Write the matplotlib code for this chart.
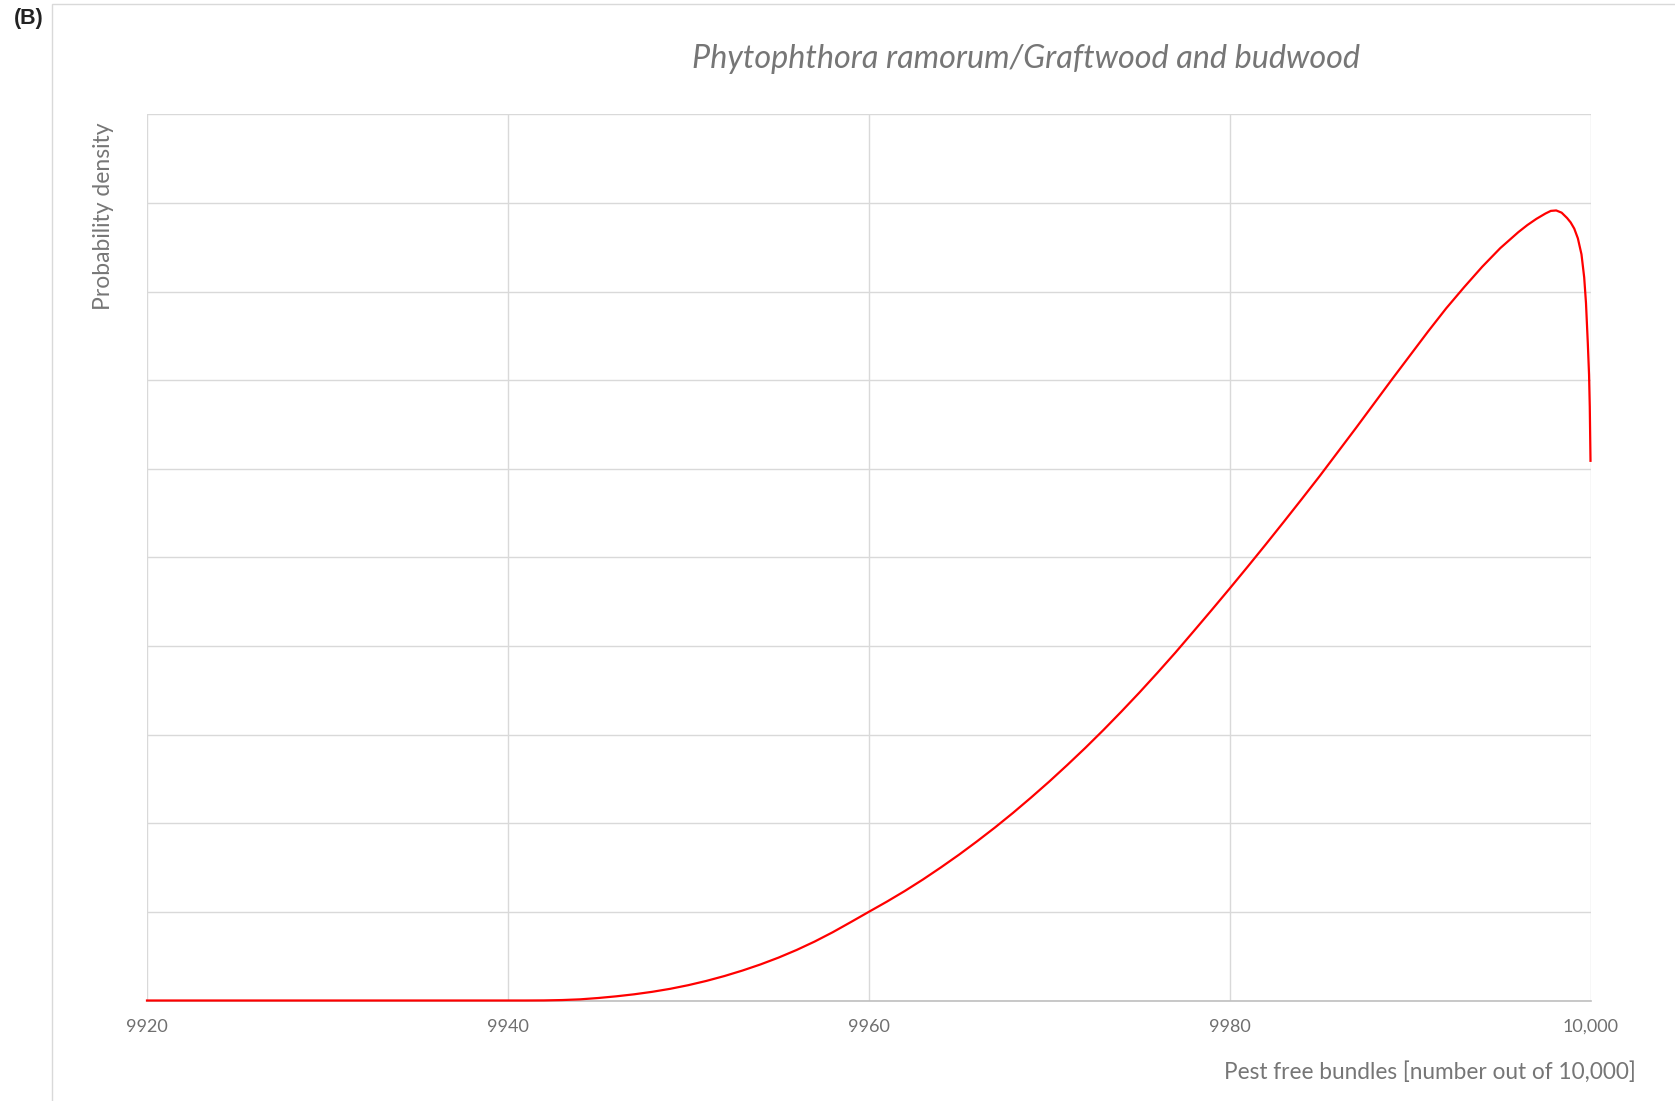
import matplotlib
matplotlib.use("Agg")
import matplotlib.pyplot as plt
from matplotlib.patches import Rectangle

# ---- data ----
pest_free = [9920, 9930, 9940, 9941, 9942, 9943, 9944, 9945, 9946, 9947, 9948, 9949,
             9950, 9951, 9952, 9953, 9954, 9955, 9956, 9957, 9958, 9959, 9960,
             9961, 9962, 9963, 9964, 9965, 9966, 9967, 9968, 9969, 9970, 9971,
             9972, 9973, 9974, 9975, 9976, 9977, 9978, 9979, 9980, 9981, 9982,
             9983, 9984, 9985, 9986, 9987, 9988, 9989, 9990, 9991, 9992, 9993,
             9994, 9995, 9996, 9996.5, 9997, 9997.5, 9997.8, 9998.1, 9998.4, 9998.7,
             9998.9, 9999.1, 9999.3, 9999.5, 9999.65, 9999.75, 9999.85, 9999.92,
             9999.96, 10000]
density = [0, 0, 0, 0, 0.001, 0.005, 0.013, 0.028, 0.047, 0.070, 0.098, 0.132,
           0.173, 0.221, 0.276, 0.338, 0.407, 0.484, 0.570, 0.665, 0.770, 0.884, 1.000,
           1.115, 1.236, 1.365, 1.502, 1.645, 1.796, 1.953, 2.118, 2.291, 2.470, 2.657,
           2.850, 3.051, 3.260, 3.475, 3.698, 3.927, 4.165, 4.405, 4.648, 4.895, 5.146,
           5.401, 5.659, 5.920, 6.190, 6.460, 6.735, 7.010, 7.280, 7.550, 7.810, 8.050,
           8.280, 8.490, 8.670, 8.750, 8.820, 8.880, 8.910, 8.915, 8.890, 8.830,
           8.780, 8.710, 8.600, 8.420, 8.160, 7.870, 7.420, 7.060,
           6.700, 6.090]
x_ticks = [9920, 9940, 9960, 9980, 10000]
x_tick_labels = ["9920", "9940", "9960", "9980", "10,000"]
y_grid = list(range(0, 11))

title = "Phytophthora ramorum/Graftwood and budwood"
xlabel = "Pest free bundles [number out of 10,000]"
ylabel = "Probability density"
panel = "(B)"

# ---- figure ----
W, H = 1675, 1101
fig = plt.figure(figsize=(W / 100, H / 100), dpi=100)
fig.patch.set_facecolor("white")

txt_font = ["Lato", "Open Sans", "DejaVu Sans"]
gray = "#767676"

# chart area border
fig.patches.append(Rectangle((51.5 / W, -0.01), 1.2, 1 - 3.5 / H + 0.01,
                             transform=fig.transFigure, fill=False,
                             edgecolor="#d9d9d9", lw=1.0))

left, right = 147 / W, 1590.5 / W
bottom, top = (H - 1000.5) / H, (H - 114.3) / H
ax = fig.add_axes([left, bottom, right - left, top - bottom])

ax.plot(pest_free, density, color="#ff0000", lw=1.6, clip_on=False, zorder=3,
        solid_joinstyle="round")

ax.set_xlim(9920, 10000)
ax.set_ylim(0, 10)
ax.set_xticks(x_ticks)
ax.set_xticklabels(x_tick_labels)
ax.set_yticks(y_grid)
ax.tick_params(axis="y", left=False, labelleft=False)
ax.tick_params(axis="x", length=0, pad=13, labelsize=13, labelcolor="#6f6f6f")
for lab in ax.get_xticklabels():
    lab.set_fontfamily(txt_font)

ax.grid(True, color="#d9d9d9", lw=1.0)
ax.set_axisbelow(True)
for s in ["left", "top", "right"]:
    ax.spines[s].set_visible(False)
ax.spines["bottom"].set_color("#bfbfbf")
ax.spines["bottom"].set_linewidth(1.2)

fig.text(1026 / W, 1 - 58.5 / H, title, ha="center", va="center",
         fontsize=23.3, style="italic", color=gray, family=txt_font)
fig.text(104 / W, 1 - 216 / H, ylabel, ha="center", va="center", rotation=90,
         fontsize=16.5, color=gray, family=txt_font)
fig.text(1636 / W, 1 - 1071.5 / H, xlabel, ha="right", va="center",
         fontsize=16.3, color=gray, family=txt_font)
fig.text(14 / W, 1 - 18.5 / H, panel, ha="left", va="center",
         fontsize=15.5, fontweight="bold", color="#222222",
         family=["Liberation Sans", "DejaVu Sans"])

fig.savefig("out.png", dpi=100, facecolor="white")
